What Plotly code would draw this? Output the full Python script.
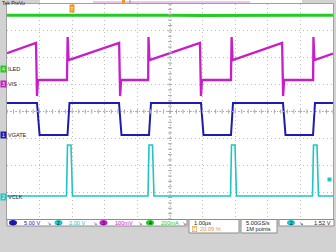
import plotly.graph_objects as go

# ---------------- data (time in µs, channel units) ----------------
# CH4 ILED (mA)
ILED_t = [0, 1, 2, 3, 4, 5, 6, 7, 8, 9, 10]
ILED_mA = [400, 401, 399, 400, 402, 400, 399, 401, 400, 400, 401]

# CH3 VIS (mV)
VIS_t = [0, 0.89, 0.92, 0.95, 1.84, 1.86, 1.89,
         3.44, 3.47, 3.50, 4.33, 4.34, 4.37,
         5.92, 5.95, 5.98, 6.87, 6.89, 6.92,
         8.44, 8.47, 8.50, 9.39, 9.40, 9.43, 10.0]
VIS_mV = [115, 153, -45, 15, 15, 175, 89,
          153, -45, 15, 15, 175, 89,
          153, -45, 15, 15, 175, 89,
          153, -45, 15, 15, 175, 89, 113]

# CH1 VGATE (V)
VGATE_t = [0, 0.92, 1.00, 1.856, 1.917, 3.436, 3.512, 4.356, 4.417,
           5.951, 6.028, 6.871, 6.933, 8.466, 8.543, 9.387, 9.448, 10.0]
VGATE_V = [5.95, 5.95, 0, 0, 5.95, 5.95, 0, 0, 5.95,
           5.95, 0, 0, 5.95, 5.95, 0, 0, 5.95, 5.95]

# CH2 VCLK (V)
VCLK_t = [0, 1.825, 1.856, 1.963, 2.009, 4.325, 4.356, 4.463, 4.509,
          6.856, 6.887, 6.994, 7.040, 9.371, 9.402, 9.509, 9.555, 10.0]
VCLK_V = [0.07, 0.07, 3.87, 3.87, 0.07, 0.07, 3.87, 3.87, 0.07,
          0.07, 3.87, 3.87, 0.07, 0.07, 3.87, 3.87, 0.07, 0.07]

# channel settings: scale per division, ground position (divisions from centre)
CH1_SCALE, CH1_GND = 5.0, -0.874      # V/div
CH2_SCALE, CH2_GND = 2.0, -3.181      # V/div
CH3_SCALE, CH3_GND = 100.0, 1.023     # mV/div
CH4_SCALE, CH4_GND = 200.0, 1.581     # mA/div

STATUS = ["5.00 V", "2.00 V", "100mV", "200mA"]
TIMEBASE = "1.00µs"
TRIG_POS = "20.09 %"
SAMPLE = ["5.00GS/s", "1M points"]
TRIG_LEVEL = "1.52 V"
LABELS = ["VGATE", "VCLK", "VIS", "ILED"]

# ---------------- style ----------------
W, H = 336, 252
L, R, T, B = 7, 333, 4, 219
BLUE = "#1c1cb0"
CYAN = "#22c4c4"
MAG = "#c81ec8"
GREEN = "#22cc22"
ORANGE = "#f0962a"
GRAYBG = "#d2d2d2"
FONT = "Liberation Sans"


def px(x):
    return x / W


def py(y):
    return 1 - y / H


def rng(scale, gnd):
    return [(-4 - gnd) * scale, (4 - gnd) * scale]


fig = go.Figure()
fig.add_trace(go.Scatter(x=ILED_t, y=ILED_mA, yaxis="y5", mode="lines",
                         line=dict(color=GREEN, width=3), hoverinfo="skip"))
fig.add_trace(go.Scatter(x=VIS_t, y=VIS_mV, yaxis="y4", mode="lines",
                         line=dict(color=MAG, width=2.3), hoverinfo="skip"))
fig.add_trace(go.Scatter(x=VGATE_t, y=VGATE_V, yaxis="y2", mode="lines",
                         line=dict(color=BLUE, width=2), hoverinfo="skip"))
fig.add_trace(go.Scatter(x=VCLK_t, y=VCLK_V, yaxis="y3", mode="lines",
                         line=dict(color=CYAN, width=1.6), hoverinfo="skip"))

shapes = []
ann = []

# top bar
shapes.append(dict(type="rect", xref="paper", yref="paper", x0=px(40), x1=px(302),
                   y0=py(4), y1=py(0), fillcolor="white", line_width=0, layer="below"))
shapes.append(dict(type="line", xref="paper", yref="paper", x0=px(93), x1=px(250),
                   y0=py(2), y1=py(2), line=dict(color="#d890d8", width=1)))
shapes.append(dict(type="rect", xref="paper", yref="paper", x0=px(122), x1=px(125),
                   y0=py(4), y1=py(0), fillcolor=ORANGE, line_width=0))
shapes.append(dict(type="line", xref="paper", yref="paper", x0=px(130), x1=px(130),
                   y0=py(4), y1=py(0), line=dict(color="#909090", width=1)))
ann.append(dict(text="Tek PreVu", xref="paper", yref="paper", x=0, y=py(2.6),
                xanchor="left", yanchor="middle", showarrow=False,
                font=dict(family=FONT, size=5, color="#202020")))

# graticule centre ticks
for k in range(-20, 21):
    shapes.append(dict(type="line", xref="x", yref="y", x0=4.94, x1=5.06,
                       y0=k * 0.2, y1=k * 0.2, line=dict(color="#a8a8a8", width=1)))
for k in range(0, 51):
    shapes.append(dict(type="line", xref="x", yref="y", x0=k * 0.2, x1=k * 0.2,
                       y0=-0.08, y1=0.08, line=dict(color="#a8a8a8", width=1)))
shapes.append(dict(type="line", xref="x", yref="y", x0=5, x1=5, y0=-4, y1=4,
                   line=dict(color="#a8a8a8", width=1, dash="1px,2px")))
shapes.append(dict(type="line", xref="x", yref="y", x0=0, x1=10, y0=0, y1=0,
                   line=dict(color="#a8a8a8", width=1, dash="1px,2px")))

# trigger position marker (top)
ann.append(dict(text="T", xref="x", yref="paper", x=2.0, y=py(8), showarrow=False,
                xanchor="center", yanchor="middle", bgcolor=ORANGE, borderpad=0,
                width=4, height=7, font=dict(family=FONT, size=5, color="white")))
# trigger level marker (right)
ann.append(dict(text="", xref="paper", yref="paper", x=px(332), y=py(182), showarrow=False,
                bgcolor=CYAN, width=3, height=3, borderpad=0))

# ground markers / labels
for num, col, yax, lab in [("1", BLUE, "y2", LABELS[0]), ("2", CYAN, "y3", LABELS[1]),
                           ("3", MAG, "y4", LABELS[2]), ("4", GREEN, "y5", LABELS[3])]:
    ann.append(dict(text=num, xref="paper", yref=yax, x=0, y=0, xanchor="left",
                    yanchor="middle", showarrow=False, bgcolor=col, borderpad=0,
                    width=5, height=6, font=dict(family=FONT, size=5, color="white")))
    ann.append(dict(text=lab, xref="paper", yref=yax, x=px(6), y=0, xanchor="left",
                    yanchor="middle", showarrow=False,
                    font=dict(family=FONT, size=5.5, color="#1a1a1a")))

# bottom status boxes
for x0, x1, y1 in [(7, 187, 226), (189, 239, 233), (241, 277, 233), (279, 334, 226)]:
    shapes.append(dict(type="rect", xref="paper", yref="paper", x0=px(x0), x1=px(x1),
                       y0=py(y1), y1=py(219.5), fillcolor="white",
                       line=dict(color="#8c8c8c", width=1)))

chan = [("1", BLUE, 13, STATUS[0], 22, 49), ("2", CYAN, 58.5, STATUS[1], 67, 95),
        ("3", MAG, 103.5, STATUS[2], 113, 140), ("4", GREEN, 150, STATUS[3], 159, 184)]
for num, col, cx, txt, tx, sx in chan:
    shapes.append(dict(type="circle", xref="paper", yref="paper", x0=px(cx - 4), x1=px(cx + 4),
                       y0=py(225.5), y1=py(220), fillcolor=col, line_width=0))
    ann.append(dict(text=num, xref="paper", yref="paper", x=px(cx), y=py(222.8),
                    showarrow=False, xanchor="center", yanchor="middle",
                    font=dict(family=FONT, size=5, color="#101040")))
    ann.append(dict(text=txt, xref="paper", yref="paper", x=px(tx), y=py(222.8),
                    showarrow=False, xanchor="left", yanchor="middle",
                    font=dict(family=FONT, size=5.6, color=col)))
    ann.append(dict(text="↘", xref="paper", yref="paper", x=px(sx), y=py(222.8),
                    showarrow=False, xanchor="center", yanchor="middle",
                    font=dict(family=FONT, size=5, color="#505090")))

ann.append(dict(text=TIMEBASE, xref="paper", yref="paper", x=px(192), y=py(223),
                showarrow=False, xanchor="left", yanchor="middle",
                font=dict(family=FONT, size=5.7, color="#202020")))
ann.append(dict(text="T", xref="paper", yref="paper", x=px(192), y=py(229.3),
                showarrow=False, xanchor="left", yanchor="middle", bordercolor=ORANGE,
                borderwidth=0.6, borderpad=0, width=4, height=5,
                font=dict(family=FONT, size=4.5, color=ORANGE)))
ann.append(dict(text=TRIG_POS, xref="paper", yref="paper", x=px(198), y=py(229.3),
                showarrow=False, xanchor="left", yanchor="middle",
                font=dict(family=FONT, size=5.7, color=ORANGE)))
ann.append(dict(text=SAMPLE[0], xref="paper", yref="paper", x=px(244), y=py(223),
                showarrow=False, xanchor="left", yanchor="middle",
                font=dict(family=FONT, size=5.7, color="#202020")))
ann.append(dict(text=SAMPLE[1], xref="paper", yref="paper", x=px(244), y=py(229.3),
                showarrow=False, xanchor="left", yanchor="middle",
                font=dict(family=FONT, size=5.7, color="#202020")))
shapes.append(dict(type="circle", xref="paper", yref="paper", x0=px(287), x1=px(295),
                   y0=py(225.5), y1=py(220), fillcolor=CYAN, line_width=0))
ann.append(dict(text="2", xref="paper", yref="paper", x=px(291), y=py(222.8),
                showarrow=False, xanchor="center", yanchor="middle",
                font=dict(family=FONT, size=5, color="#101040")))
ann.append(dict(text="↘", xref="paper", yref="paper", x=px(301), y=py(222.8),
                showarrow=False, xanchor="center", yanchor="middle",
                font=dict(family=FONT, size=5, color="#303030")))
ann.append(dict(text=TRIG_LEVEL, xref="paper", yref="paper", x=px(333), y=py(222.8),
                showarrow=False, xanchor="right", yanchor="middle",
                font=dict(family=FONT, size=5.7, color="#202020")))

ax_common = dict(overlaying="y", visible=False, fixedrange=True)
fig.update_layout(
    width=W, height=H, margin=dict(l=0, r=0, t=0, b=0),
    paper_bgcolor=GRAYBG, plot_bgcolor="white", showlegend=False,
    xaxis=dict(range=[0, 10], domain=[px(L), px(R)], dtick=1, tick0=0,
               showgrid=True, gridcolor="#bdbdbd", griddash="1px,3px", gridwidth=1,
               showticklabels=False, ticks="", zeroline=False,
               showline=True, linecolor="#a0a0a0", linewidth=1, mirror=True),
    yaxis=dict(range=[-4, 4], domain=[py(B), py(T)], dtick=1, tick0=0,
               showgrid=True, gridcolor="#bdbdbd", griddash="1px,3px", gridwidth=1,
               showticklabels=False, ticks="", zeroline=False,
               showline=True, linecolor="#a0a0a0", linewidth=1, mirror=True),
    yaxis2=dict(range=rng(CH1_SCALE, CH1_GND), **ax_common),
    yaxis3=dict(range=rng(CH2_SCALE, CH2_GND), **ax_common),
    yaxis4=dict(range=rng(CH3_SCALE, CH3_GND), **ax_common),
    yaxis5=dict(range=rng(CH4_SCALE, CH4_GND), **ax_common),
    shapes=shapes, annotations=ann,
)

fig.write_html("out.html")
